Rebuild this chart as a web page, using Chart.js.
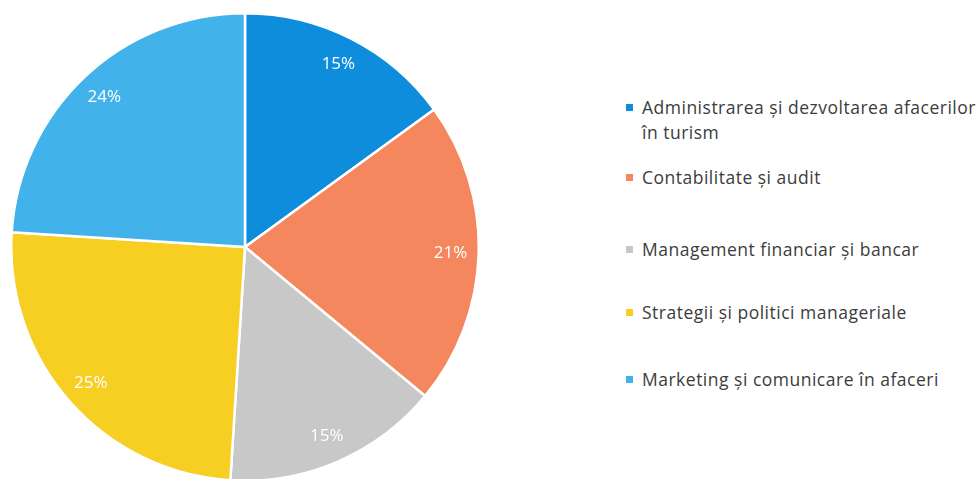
<!DOCTYPE html>
<html lang="ro">
  <head>
    <meta charset="UTF-8" />
    <title>Specializări</title>
    <style>
      html, body {
        margin: 0;
        padding: 0;
        background: #ffffff;
        width: 979px;
        height: 479px;
        overflow: hidden;
      }
      #pie-wrap {
        position: absolute;
        left: 10px;
        top: 12px;
        width: 470px;
        height: 470px;
      }
      #legend {
        position: absolute;
        left: 626px;
        top: 0;
        font-family: "Open Sans", sans-serif;
        font-size: 17.5px;
        letter-spacing: 0.5px;
        color: #3c3c3c;
      }
      .item {
        position: absolute;
        left: 0;
        width: 420px;
        line-height: 25px;
      }
      .box {
        position: absolute;
        left: 0;
        top: 9px;
        width: 7px;
        height: 7px;
      }
      .txt {
        margin-left: 16px;
        width: 342px;
      }
    </style>
  </head>
  <body>
    <script src="https://cdn.jsdelivr.net/npm/chart.js@4"></script>
    <div id="pie-wrap"><canvas id="pie"></canvas></div>
    <div id="legend"></div>
    <script>
      var labels = [
        "Administrarea şi dezvoltarea afacerilor în turism",
        "Contabilitate şi audit",
        "Management financiar şi bancar",
        "Strategii şi politici manageriale",
        "Marketing şi comunicare în afaceri",
      ];
      var values = [15, 21, 15, 25, 24];
      var colors = ["#0f8ddd", "#f4875e", "#c8c8c8", "#f6cf22", "#42b3ea"];

      // top of each legend row (px)
      var legendTops = [95, 165, 237, 300, 367];

      var legend = document.getElementById("legend");
      labels.forEach(function (lab, i) {
        var d = document.createElement("div");
        d.className = "item";
        d.style.top = legendTops[i] + "px";
        d.innerHTML =
          '<span class="box" style="background:' + colors[i] + '"></span>' +
          '<div class="txt">' + lab + "</div>";
        legend.appendChild(d);
      });

      // percent labels near the outer edge of each slice
      var sliceLabels = {
        id: "sliceLabels",
        afterDatasetsDraw: function (chart) {
          var ctx = chart.ctx;
          var meta = chart.getDatasetMeta(0);
          var total = values.reduce(function (a, b) { return a + b; }, 0);
          ctx.save();
          ctx.font = "17px 'Open Sans', sans-serif";
          ctx.fillStyle = "#ffffff";
          ctx.textAlign = "center";
          ctx.textBaseline = "middle";
          meta.data.forEach(function (arc, i) {
            var mid = (arc.startAngle + arc.endAngle) / 2;
            var r = arc.outerRadius * 0.88;
            var x = arc.x + Math.cos(mid) * r;
            var y = arc.y + Math.sin(mid) * r;
            ctx.fillText(Math.round((values[i] / total) * 100) + "%", x, y);
          });
          ctx.restore();
        },
      };

      new Chart(document.getElementById("pie"), {
        type: "pie",
        data: {
          labels: labels,
          datasets: [
            {
              data: values,
              backgroundColor: colors,
              borderColor: "#ffffff",
              borderWidth: 2.5,
            },
          ],
        },
        options: {
          responsive: true,
          maintainAspectRatio: false,
          animation: false,
          layout: { padding: 0 },
          plugins: {
            legend: { display: false },
            tooltip: { enabled: false },
          },
        },
        plugins: [sliceLabels],
      });
    </script>
  </body>
</html>
